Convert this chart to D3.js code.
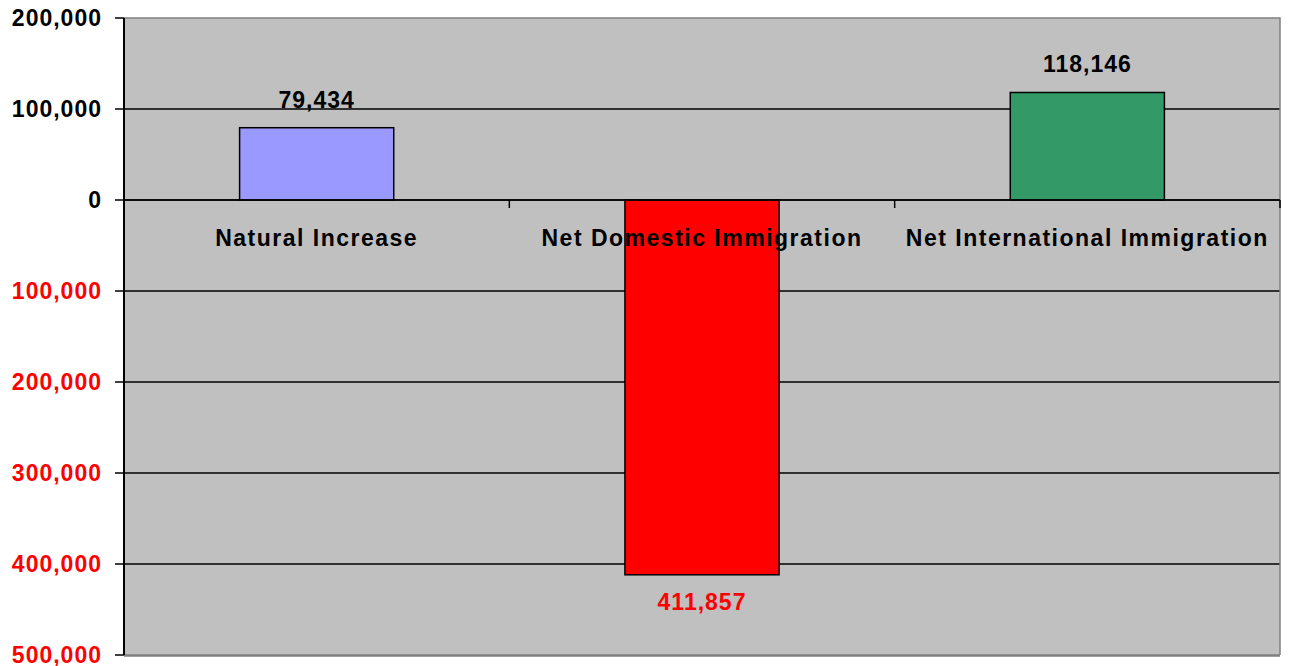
<!DOCTYPE html>
<html>
<head>
<meta charset="utf-8">
<script src="https://cdn.jsdelivr.net/npm/d3@7"></script>
<style>
  body { margin: 0; background: #fff; }
  text { font-family: "Liberation Sans", Arial, sans-serif; font-weight: bold; }
</style>
</head>
<body>
<svg id="chart" width="1293" height="666"></svg>
<script>
const categories = ["Natural Increase", "Net Domestic Immigration", "Net International Immigration"];
const values = [79434, -411857, 118146];
const barColors = ["#9999FF", "#FF0000", "#339966"];
const tickValues = [200000, 100000, 0, -100000, -200000, -300000, -400000, -500000];

const svg = d3.select("#chart");
const plotLeft = 124, plotRight = 1280, plotTop = 18, plotBottom = 655;

const x = d3.scaleBand()
    .domain(categories)
    .range([plotLeft, plotRight])
    .paddingInner(0)
    .paddingOuter(0);

const y = d3.scaleLinear()
    .domain([-500000, 200000])
    .range([plotBottom, plotTop]);

const fmt = d3.format(",");

// plot background
svg.append("rect")
    .attr("x", plotLeft)
    .attr("y", plotTop)
    .attr("width", plotRight - plotLeft)
    .attr("height", plotBottom - plotTop)
    .attr("fill", "#C0C0C0");

// grid lines
svg.selectAll("line.grid")
    .data(tickValues.filter(d => d !== 200000 && d !== -500000))
    .join("line")
    .attr("class", "grid")
    .attr("x1", plotLeft)
    .attr("x2", plotRight)
    .attr("y1", d => y(d))
    .attr("y2", d => y(d))
    .attr("stroke", "#000")
    .attr("stroke-width", 1.5);

// plot border top / right / bottom
svg.append("path")
    .attr("d", `M${plotLeft},${plotTop}H${plotRight}V${plotBottom}`)
    .attr("fill", "none")
    .attr("stroke", "#808080")
    .attr("stroke-width", 1.5);
svg.append("line")
    .attr("x1", plotLeft).attr("x2", plotRight)
    .attr("y1", plotBottom + 0.5).attr("y2", plotBottom + 0.5)
    .attr("stroke", "#808080")
    .attr("stroke-width", 2.5);

// bars
const barW = x.bandwidth() * 0.4;
svg.selectAll("rect.bar")
    .data(categories)
    .join("rect")
    .attr("class", "bar")
    .attr("x", d => x(d) + (x.bandwidth() - barW) / 2)
    .attr("y", (d, i) => y(Math.max(0, values[i])))
    .attr("width", barW)
    .attr("height", (d, i) => Math.abs(y(values[i]) - y(0)))
    .attr("fill", (d, i) => barColors[i])
    .attr("stroke", "#000")
    .attr("stroke-width", 1.5);

// zero axis with category ticks
svg.append("line")
    .attr("x1", plotLeft).attr("x2", plotRight)
    .attr("y1", y(0)).attr("y2", y(0))
    .attr("stroke", "#000")
    .attr("stroke-width", 1.5);
svg.selectAll("line.xtick")
    .data(categories.slice(1).map(c => x(c)).concat([plotRight]))
    .join("line")
    .attr("class", "xtick")
    .attr("x1", d => d).attr("x2", d => d)
    .attr("y1", y(0)).attr("y2", y(0) + 8)
    .attr("stroke", "#000")
    .attr("stroke-width", 1.5);

// y axis
const yAxis = svg.append("g").attr("transform", `translate(${plotLeft},0)`);
yAxis.append("line")
    .attr("x1", 0).attr("x2", 0)
    .attr("y1", plotTop).attr("y2", plotBottom)
    .attr("stroke", "#000")
    .attr("stroke-width", 2);
yAxis.selectAll("line.ytick")
    .data(tickValues)
    .join("line")
    .attr("class", "ytick")
    .attr("x1", -9).attr("x2", 0)
    .attr("y1", d => y(d)).attr("y2", d => y(d))
    .attr("stroke", "#000")
    .attr("stroke-width", 1.5);
yAxis.selectAll("text")
    .data(tickValues)
    .join("text")
    .attr("x", -22)
    .attr("y", d => y(d))
    .attr("dy", "0.36em")
    .attr("text-anchor", "end")
    .style("font-size", "23px")
    .style("letter-spacing", "1px")
    .attr("fill", d => d < 0 ? "#FF0000" : "#000")
    .text(d => fmt(Math.abs(d)));

// category labels
svg.selectAll("text.cat")
    .data(categories)
    .join("text")
    .attr("class", "cat")
    .attr("x", d => x(d) + x.bandwidth() / 2)
    .attr("y", 246)
    .attr("text-anchor", "middle")
    .style("font-size", "23px")
    .style("letter-spacing", "1.5px")
    .text(d => d);

// value labels
svg.selectAll("text.val")
    .data(categories)
    .join("text")
    .attr("class", "val")
    .attr("x", d => x(d) + x.bandwidth() / 2)
    .attr("y", (d, i) => values[i] >= 0 ? y(values[i]) - 20 : y(values[i]) + 35)
    .attr("text-anchor", "middle")
    .style("font-size", "23px")
    .style("letter-spacing", "1px")
    .attr("fill", (d, i) => values[i] < 0 ? "#FF0000" : "#000")
    .text((d, i) => fmt(Math.abs(values[i])));
</script>
</body>
</html>
